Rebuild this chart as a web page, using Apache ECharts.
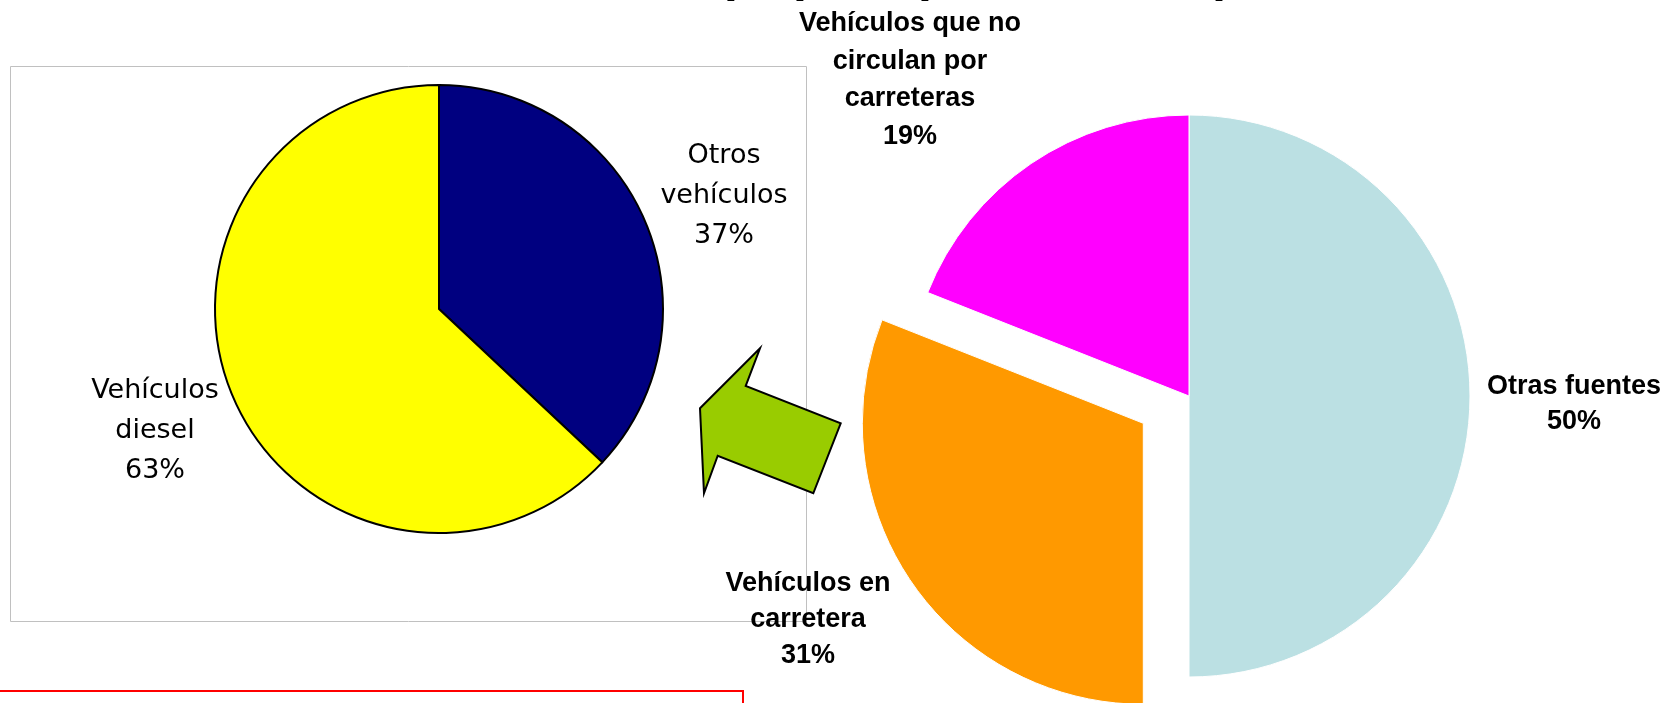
<!DOCTYPE html>
<html>
<head>
<meta charset="utf-8">
<script src="https://cdn.jsdelivr.net/npm/echarts@6/dist/echarts.min.js"></script>
<style>
html,body{margin:0;padding:0;background:#fff;}
#chart{width:1662px;height:703px;}
</style>
</head>
<body>
<div id="chart"></div>
<script>
// ---- data ----
const titleText = '(% por tipo de fuente)';
const leftNames = ['Otros\nvehículos', 'Vehículos\ndiesel'];
const leftValues = [37, 63];
const leftColors = ['#000080', '#ffff00'];
const rightNames = ['Otras fuentes', 'Vehículos en\ncarretera', 'Vehículos que no\ncirculan por\ncarreteras'];
const rightValues = [50, 31, 19];
const rightColors = ['#bbe0e3', '#ff9900', '#ff00ff'];
const explodedIndex = 1;

// ---- layout (px) ----
const leftCenter = [439, 309];
const rightCenter = [1189, 396];
const explodeShift = [-45.7, 27.3];
const leftLabelPos = [[724, 196], [155, 431]];
const rightLabelPos = [[1574, 404], [808, 619.5], [910, 80]];
const rightLineHeights = [35, 36, 37.8];

const chart = echarts.init(document.getElementById('chart'), null, {renderer: 'canvas'});

const rightLabelBase = {
  show: true,
  formatter: '{b}\n{d}%',
  fontFamily: '"Liberation Sans", Arial, sans-serif',
  fontWeight: 'bold',
  fontSize: 27,
  color: '#000',
  align: 'center',
  overflow: 'none'
};
const rightLayout = function (params) {
  const p = rightLabelPos[params.dataIndex];
  return {x: p[0], y: p[1], align: 'center', verticalAlign: 'middle'};
};

function rightData(showExploded) {
  return rightNames.map((n, i) => {
    const visible = (i === explodedIndex) === showExploded;
    return {
      name: n, value: rightValues[i],
      itemStyle: visible ? {color: rightColors[i], borderColor: '#fff', borderWidth: 1}
                         : {color: 'rgba(0,0,0,0)', borderWidth: 0},
      label: visible ? {show: true, lineHeight: rightLineHeights[i]} : {show: false}
    };
  });
}

const option = {
  animation: false,
  backgroundColor: '#fff',
  graphic: [
    {
      type: 'rect', z: 0, silent: true,
      shape: {x: 10.5, y: 66.5, width: 796, height: 555},
      style: {fill: 'none', stroke: '#c0c0c0', lineWidth: 1}
    },
    {
      type: 'rect', z: 0, silent: true,
      shape: {x: -5, y: 691, width: 748, height: 40},
      style: {fill: 'none', stroke: '#ff0000', lineWidth: 2}
    },
    {
      type: 'polygon', z: 10, silent: true,
      shape: {points: [[700, 408.3], [760, 348.3], [745.7, 386], [840.7, 423.3], [813.3, 493.3], [717.7, 455.7], [704, 493.3]]},
      style: {fill: '#99cc00', stroke: '#000', lineWidth: 2, lineJoin: 'miter'}
    },
    {
      type: 'text', z: 10, silent: true,
      style: {
        text: titleText, x: 975, y: -23, align: 'center', verticalAlign: 'middle',
        font: 'bold 50px "Liberation Sans", Arial, sans-serif', fill: '#000'
      }
    }
  ],
  series: [
    {
      type: 'pie',
      center: leftCenter,
      radius: 224,
      startAngle: 90,
      clockwise: true,
      silent: true,
      z: 2,
      itemStyle: {borderColor: '#000', borderWidth: 2},
      label: {
        show: true,
        formatter: '{b}\n{d}%',
        fontFamily: '"DejaVu Sans", sans-serif',
        fontSize: 27,
        lineHeight: 40,
        color: '#000',
        align: 'center',
        overflow: 'none'
      },
      labelLine: {show: false},
      labelLayout: function (params) {
        const p = leftLabelPos[params.dataIndex];
        return {x: p[0], y: p[1], align: 'center', verticalAlign: 'middle'};
      },
      emphasis: {disabled: true},
      data: leftNames.map((n, i) => ({name: n, value: leftValues[i], itemStyle: {color: leftColors[i]}}))
    },
    {
      type: 'pie',
      center: rightCenter,
      radius: 281,
      startAngle: 90,
      clockwise: true,
      silent: true,
      z: 2,
      label: rightLabelBase,
      labelLine: {show: false},
      labelLayout: rightLayout,
      emphasis: {disabled: true},
      data: rightData(false)
    },
    {
      type: 'pie',
      center: [rightCenter[0] + explodeShift[0], rightCenter[1] + explodeShift[1]],
      radius: 281,
      startAngle: 90,
      clockwise: true,
      silent: true,
      z: 2,
      label: rightLabelBase,
      labelLine: {show: false},
      labelLayout: rightLayout,
      emphasis: {disabled: true},
      data: rightData(true)
    }
  ]
};
chart.setOption(option);
</script>
</body>
</html>
